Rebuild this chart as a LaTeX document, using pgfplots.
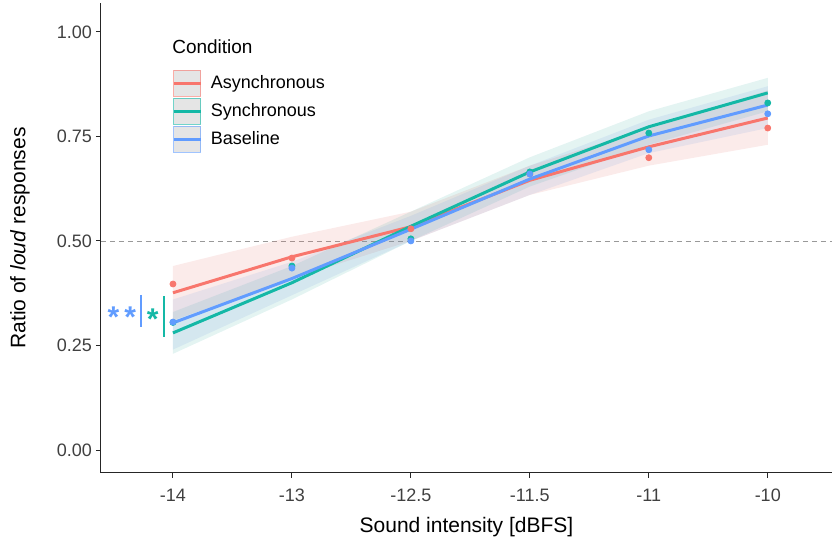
\documentclass[border=0pt]{standalone}
\usepackage{pgfplots}
\pgfplotsset{compat=1.18}
\usepackage{fontspec}
\setmainfont{Liberation Sans}

\definecolor{cAsy}{HTML}{F8766D}
\definecolor{cSyn}{HTML}{14B8A6}
\definecolor{cBas}{HTML}{619CFF}
\definecolor{tickgrey}{HTML}{404040}

\begin{document}
\begin{tikzpicture}
  % fixed page size: 832 x 541 px at 0.5pt per px
  \useasboundingbox (-50.5pt,-34pt) rectangle (365.5pt,236.5pt);
  \begin{axis}[
      scale only axis,
      width=365.5pt, height=235pt,
      xmin=-0.605, xmax=5.54,
      ymin=-0.055, ymax=1.069,
      axis lines=left,
      axis line style={-, draw=black!85, line width=0.5pt},
      tick align=outside,
      major tick length=2.5pt,
      tick style={black!85, line width=0.5pt},
      xtick={0,1,2,3,4,5},
      xticklabels={-14,-13,-12.5,-11.5,-11,-10},
      ytick={0,0.25,0.5,0.75,1},
      yticklabels={0.00,0.25,0.50,0.75,1.00},
      ticklabel style={font=\fontsize{9}{10}\selectfont, text=tickgrey},
      xticklabel style={yshift=-2pt},
      yticklabel style={xshift=1.5pt},
      xlabel={Sound intensity [dBFS]},
      ylabel={Ratio of \textit{loud} responses},
      label style={font=\fontsize{10.5}{12}\selectfont},
      xlabel style={at={(axis description cs:0.5,-0.115)}, anchor=center},
      ylabel style={at={(axis description cs:-0.111,0.5)}, anchor=center},
      clip=false,
      legend image code/.code={
        \draw[#1, draw opacity=0.6, line width=0.5pt, fill=black!10] (0pt,-6.5pt) rectangle (13.5pt,6.5pt);
        \draw[#1, line width=1.5pt] (0pt,0pt) -- (13.5pt,0pt);
      },
      legend style={draw=none, fill=none, font=\fontsize{9}{10}\selectfont,
        at={(axis description cs:0.097,0.859)}, anchor=north west,
        row sep=0.5pt, inner xsep=0pt, inner ysep=0pt,
        /tikz/every odd column/.append style={column sep=2.3pt}},
      legend cell align=left,
    ]

    % reference line at 0.5
    \addplot[forget plot, gray!80, dashed, dash pattern=on 2.5pt off 2pt, line width=0.4pt]
      coordinates {(-0.605,0.5) (5.54,0.5)};

    % confidence ribbons (upper edge, then lower edge back)
    \addplot[forget plot, fill=cAsy!85!gray, fill opacity=0.15, draw=none] coordinates {
      (0,0.44) (1,0.51) (2,0.57) (3,0.68) (4,0.77) (5,0.86)
      (5,0.73) (4,0.68) (3,0.61) (2,0.50) (1,0.41) (0,0.31)} -- cycle;
    \addplot[forget plot, fill=cSyn!75!gray, fill opacity=0.13, draw=none] coordinates {
      (0,0.33) (1,0.44) (2,0.57) (3,0.70) (4,0.81) (5,0.89)
      (5,0.81) (4,0.73) (3,0.63) (2,0.50) (1,0.36) (0,0.23)} -- cycle;
    \addplot[forget plot, fill=cBas!75!gray, fill opacity=0.13, draw=none] coordinates {
      (0,0.36) (1,0.45) (2,0.56) (3,0.68) (4,0.79) (5,0.87)
      (5,0.77) (4,0.71) (3,0.61) (2,0.50) (1,0.37) (0,0.24)} -- cycle;

    % observed ratios
    \addplot[forget plot, only marks, mark=*, mark size=1.5pt, cAsy] coordinates {
      (0,0.397) (1,0.459) (2,0.529) (3,0.660) (4,0.699) (5,0.770)};
    \addplot[forget plot, only marks, mark=*, mark size=1.5pt, cSyn] coordinates {
      (0,0.305) (1,0.440) (2,0.505) (3,0.665) (4,0.758) (5,0.830)};
    \addplot[forget plot, only marks, mark=*, mark size=1.5pt, cBas] coordinates {
      (0,0.306) (1,0.435) (2,0.500) (3,0.660) (4,0.718) (5,0.804)};

    % fitted curves
    \addplot[forget plot, cAsy, line width=1.5pt] coordinates {
      (0,0.376) (1,0.462) (2,0.534) (3,0.645) (4,0.725) (5,0.794)};
    \addplot[forget plot, cSyn, line width=1.5pt] coordinates {
      (0,0.280) (1,0.400) (2,0.535) (3,0.665) (4,0.773) (5,0.854)};
    \addplot[forget plot, cBas, line width=1.5pt] coordinates {
      (0,0.304) (1,0.410) (2,0.528) (3,0.648) (4,0.751) (5,0.825)};

    % legend
    \addlegendimage{cAsy}
    \addlegendentry{Asynchronous}
    \addlegendimage{cSyn}
    \addlegendentry{Synchronous}
    \addlegendimage{cBas}
    \addlegendentry{Baseline}
    \node[anchor=west, inner sep=0pt, font=\fontsize{9.5}{11}\selectfont] at (axis description cs:0.097,0.906) {Condition};

    % significance marks
    \draw[cBas, line width=0.8pt] (axis cs:-0.27,0.371) -- (axis cs:-0.27,0.294);
    \draw[cSyn, line width=0.8pt] (axis cs:-0.076,0.368) -- (axis cs:-0.076,0.27);
    \node[cBas, font=\fontsize{15}{16}\selectfont\bfseries, inner sep=0pt] at (axis cs:-0.43,0.318) {*\,*};
    \node[cSyn, font=\fontsize{15}{16}\selectfont\bfseries, inner sep=0pt] at (axis cs:-0.17,0.313) {*};
  \end{axis}
\end{tikzpicture}
\end{document}
